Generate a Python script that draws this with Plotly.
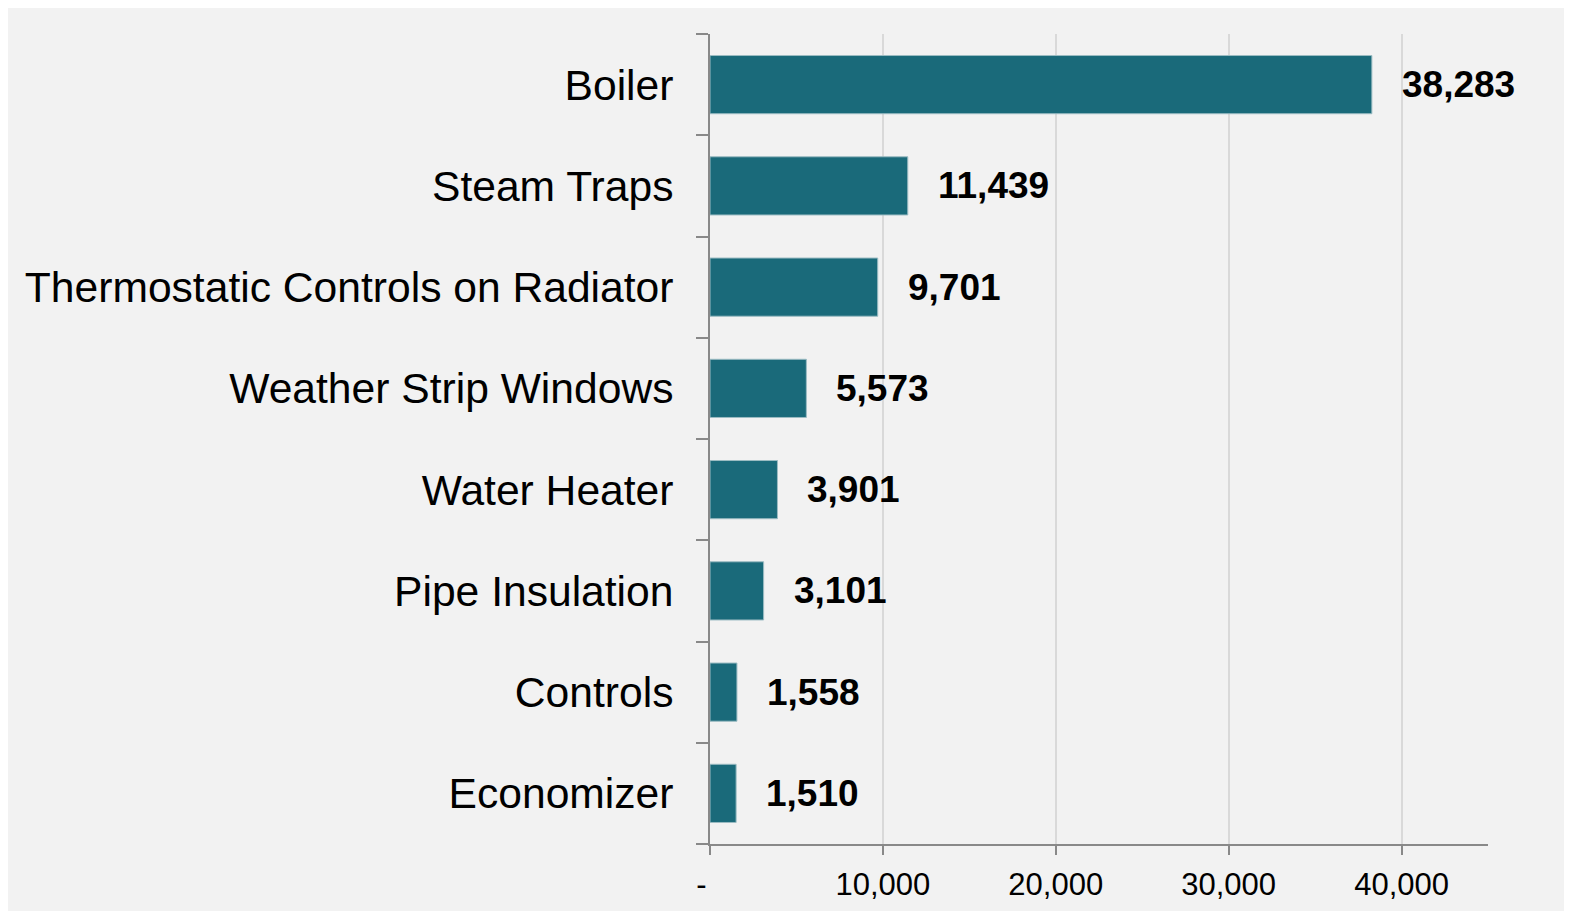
import plotly.graph_objects as go

categories = ["Boiler", "Steam Traps", "Thermostatic Controls on Radiator",
              "Weather Strip Windows", "Water Heater", "Pipe Insulation",
              "Controls", "Economizer"]
values = [38283, 11439, 9701, 5573, 3901, 3101, 1558, 1510]

tick_vals = [0, 10000, 20000, 30000, 40000]
tick_text = ["-\u00a0\u00a0", "10,000", "20,000", "30,000", "40,000"]

font_family = "Liberation Sans, Arial, sans-serif"
bar_color = "#1a6a7a"

fig = go.Figure(go.Bar(
    x=values,
    y=categories,
    orientation="h",
    marker=dict(color=bar_color, line=dict(color="#9cbcc3", width=1)),
    hoverinfo="x+y",
))

# value labels placed just to the right of each bar end
for cat, val in zip(categories, values):
    fig.add_annotation(x=val, y=cat, text=f"<b>{val:,}</b>", showarrow=False,
                       xanchor="left", xshift=28,
                       font=dict(family=font_family, size=37, color="black"))

# short extension of the x axis line to the left of zero (Excel-style)
fig.add_shape(type="line", xref="paper", yref="paper", xsizemode="pixel",
              xanchor=0, x0=-12, x1=0, y0=0, y1=0,
              line=dict(color="#898989", width=2))

fig.update_layout(
    width=1572, height=911,
    paper_bgcolor="#f2f2f2",
    plot_bgcolor="#f2f2f2",
    margin=dict(l=702, r=92, t=26, b=75),
    bargap=0.425,
    showlegend=False,
    font=dict(family=font_family, color="black"),
)

fig.update_xaxes(
    range=[0, 45000],
    tickvals=tick_vals, ticktext=tick_text,
    showgrid=True, gridcolor="#d9d9d9", gridwidth=1.5,
    zeroline=False,
    showline=True, linecolor="#898989", linewidth=2,
    ticks="outside", ticklen=9, tickcolor="#898989", tickwidth=2,
    ticklabelstandoff=3,
    tickfont=dict(size=31, family=font_family, color="black"),
)

fig.update_yaxes(
    categoryorder="array", categoryarray=categories[::-1],
    showgrid=False, zeroline=False,
    showline=True, linecolor="#898989", linewidth=2,
    ticks="outside", tickson="boundaries", ticklen=12,
    tickcolor="#898989", tickwidth=2,
    ticklabelstandoff=26,
    tickfont=dict(size=42.6, family=font_family, color="black"),
)

fig.write_html("out.html")
